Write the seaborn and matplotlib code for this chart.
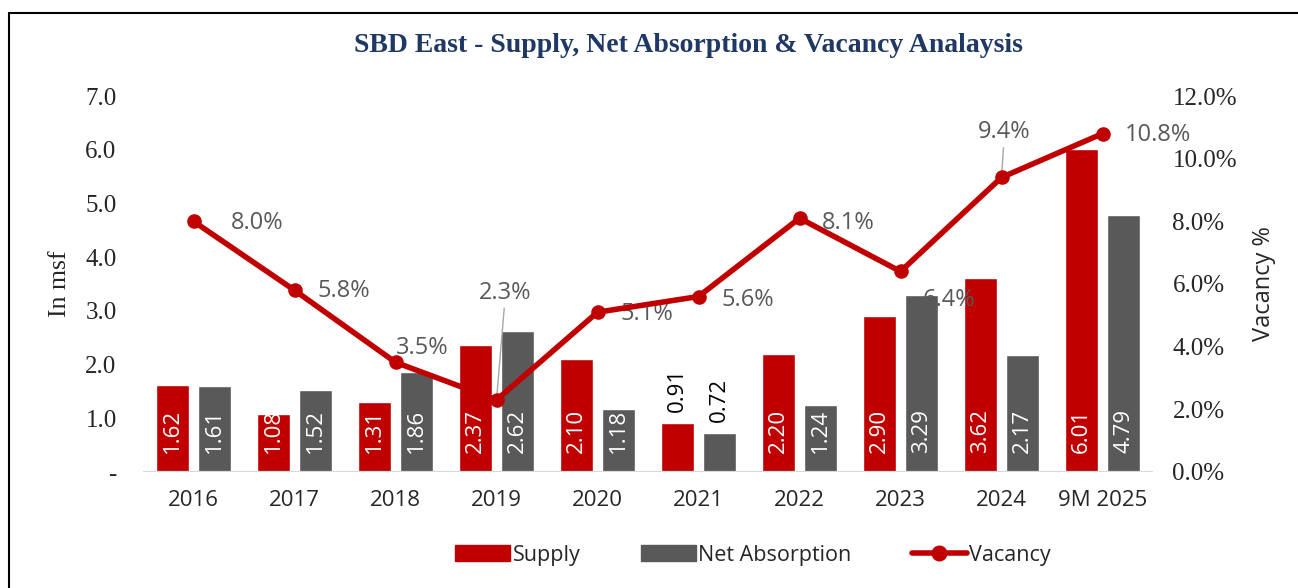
import numpy as np
import pandas as pd
import matplotlib
matplotlib.use("Agg")
import matplotlib.pyplot as plt
from matplotlib.lines import Line2D
from matplotlib.patches import Patch
import seaborn as sns

years = ["2016", "2017", "2018", "2019", "2020", "2021", "2022", "2023", "2024", "9M 2025"]
supply = [1.62, 1.08, 1.31, 2.37, 2.10, 0.91, 2.20, 2.90, 3.62, 6.01]
net_absorption = [1.61, 1.52, 1.86, 2.62, 1.18, 0.72, 1.24, 3.29, 2.17, 4.79]
vacancy = [8.0, 5.8, 3.5, 2.3, 5.1, 5.6, 8.1, 6.4, 9.4, 10.8]

red = "#C00000"
grey = "#595959"
navy = "#1F3864"

sns.set_style("white")
plt.rcParams["font.family"] = ["Open Sans", "DejaVu Sans"]

df = pd.DataFrame({"year": years * 2,
                   "value": supply + net_absorption,
                   "series": ["Supply"] * len(years) + ["Net Absorption"] * len(years)})

fig = plt.figure(figsize=(12.98, 5.88), dpi=100)
ax = fig.add_axes([143 / 1298, 1 - 472 / 588, 1010 / 1298, 376 / 588])

sns.barplot(data=df, x="year", y="value", hue="series", order=years,
            hue_order=["Supply", "Net Absorption"], palette=[red, grey],
            width=0.832, gap=0.214, saturation=1, legend=False, ax=ax)

ax.set_xlim(-0.5, len(years) - 0.5)
ax.set_ylim(0, 7)
ax.set_yticks(np.arange(0, 8, 1))
ax.set_yticklabels(["-"] + [f"{v:.1f}" for v in range(1, 8)],
                   family="Liberation Serif", fontsize=18)
ax.tick_params(axis="y", length=0, pad=19)
ax.tick_params(axis="x", length=0, pad=13, labelsize=16)
ax.set_xlabel("")
ax.set_ylabel("In msf", family="Liberation Serif", fontsize=18.5)
ax.yaxis.set_label_coords(-0.071, 0.5)
for s in ax.spines.values():
    s.set_visible(False)
ax.axhline(0, color="#D9D9D9", lw=1.6, zorder=1)

# bar value labels
for cont in ax.containers:
    for bar in cont:
        h = bar.get_height()
        xc = bar.get_x() + bar.get_width() / 2
        if h < 1.0:
            ax.annotate(f"{h:.2f}", (xc, h), xytext=(0, 8), textcoords="offset points",
                        rotation=90, ha="center", va="bottom", fontsize=16, color="black")
        else:
            ax.annotate(f"{h:.2f}", (xc, 0), xytext=(0, 13.5), textcoords="offset points",
                        rotation=90, ha="center", va="bottom", fontsize=16, color="white")

ax2 = ax.twinx()
sns.lineplot(x=np.arange(len(years)), y=vacancy, color=red, lw=4, marker="o",
             markersize=10.5, markeredgewidth=0, ax=ax2, zorder=5)
ax2.set_ylim(0, 12)
ax2.set_yticks(np.arange(0, 13, 2))
ax2.set_yticklabels([f"{v:.1f}%" for v in range(0, 13, 2)],
                    family="Liberation Serif", fontsize=18)
ax2.tick_params(axis="y", length=0, pad=14)
ax2.set_ylabel("Vacancy %", fontsize=17)
ax2.yaxis.set_label_coords(1.098, 0.5)
for s in ax2.spines.values():
    s.set_visible(False)

# vacancy labels (offsets in pixels)
offsets = {0: (37, -2), 1: (23, -1), 2: (0, 14), 3: (9, 95), 4: (23, -2),
           5: (23, -3), 6: (22, -5), 7: (22, -29), 8: (3, 33), 9: (22, -1)}
for i, v in enumerate(vacancy):
    dx, dy = offsets[i]
    if i in (3, 8):
        ax2.annotate(f"{v:.1f}%", (i, v), xytext=(dx * 0.72, dy * 0.72),
                     textcoords="offset points", ha="center", va="bottom",
                     fontsize=17, color=grey,
                     arrowprops=dict(arrowstyle="-", color="#A6A6A6", lw=1,
                                     shrinkA=0, shrinkB=0))
    else:
        ax2.annotate(f"{v:.1f}%", (i, v), xytext=(dx * 0.72, dy * 0.72),
                     textcoords="offset points", ha="left", va="center",
                     fontsize=17, color=grey)

fig.text(688 / 1298, 1 - 45 / 588, "SBD East - Supply, Net Absorption & Vacancy Analaysis",
         family="Liberation Serif", fontweight="bold", fontsize=20, color=navy,
         ha="center", va="center")

handles = [Patch(color=red, label="Supply"),
           Patch(color=grey, label="Net Absorption"),
           Line2D([], [], color=red, lw=4, marker="o", markersize=10.5, label="Vacancy")]
fig.legend(handles=handles, loc="center", bbox_to_anchor=(753 / 1298, 1 - 555 / 588),
           ncol=3, frameon=False, fontsize=15.5, handlelength=2.55, handleheight=0.7,
           handletextpad=0.12, columnspacing=2.8)

# page border (top and left visible)
x0, y0 = 8.5 / 1298, 1 - 12.5 / 588
fig.add_artist(Line2D([x0, x0], [0, y0], color="black", lw=1.5, transform=fig.transFigure))
fig.add_artist(Line2D([x0, 1], [y0, y0], color="black", lw=1.5, transform=fig.transFigure))

fig.savefig("out.png", dpi=100)
